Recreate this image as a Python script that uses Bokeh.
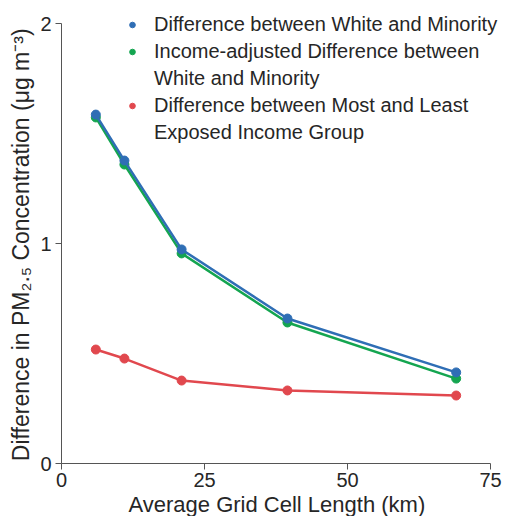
from bokeh.plotting import figure
from bokeh.models import Range1d, FixedTicker, Legend, LegendItem
from bokeh.embed import file_html
from bokeh.resources import INLINE

grid_length = [6, 11, 21, 39.5, 69]
white_minority = [1.586, 1.377, 0.973, 0.659, 0.414]
income_adjusted = [1.573, 1.359, 0.955, 0.641, 0.386]
most_least_income = [0.518, 0.477, 0.377, 0.332, 0.309]
x_ticks = [0, 25, 50, 75]
y_ticks = [0, 1, 2]

# legend labels, one list entry per printed line
label_lines = [
    ["Difference between White and Minority"],
    ["Income-adjusted Difference between", "White and Minority"],
    ["Difference between Most and Least", "Exposed Income Group"],
]
colors = ["#2f6eb5", "#14a550", "#e1484e"]

FONT = "Liberation Sans"
TXT = "#262626"
NB = "\u00a0"

# axes span 0-75 and 0-2 (429 x 440 px); frame extended so the legend is not clipped
FW, FH = 443, 463
p = figure(frame_width=FW, frame_height=FH, output_backend="svg",
           toolbar_location=None,
           x_range=Range1d(0, 75 * FW / 429), y_range=Range1d(0, 2 * FH / 440),
           min_border_left=61, min_border_top=0, min_border_right=0, min_border_bottom=45)
p.outline_line_color = None
p.grid.visible = False

series = [white_minority, income_adjusted, most_least_income]
order = [2, 1, 0]
rends = {}
for i in order:
    p.line(grid_length, series[i], line_color=colors[i], line_width=2.5)
    rends[i] = p.scatter(grid_length, series[i], size=9, color=colors[i])

# invisible renderer for continuation lines of the legend labels
blank = p.scatter([], [], size=0, fill_alpha=0, line_alpha=0)

items = []
for i in range(3):
    for j, line in enumerate(label_lines[i]):
        items.append(LegendItem(label=line, renderers=[rends[i] if j == 0 else blank]))

legend = Legend(items=items, location=(64, 317))
legend.background_fill_alpha = 0
legend.border_line_alpha = 0
legend.label_text_font = FONT
legend.label_text_font_size = "20px"
legend.label_text_color = TXT
legend.glyph_width = 14
legend.glyph_height = 27
legend.label_height = 27
legend.label_standoff = 15
legend.padding = 0
legend.margin = 0
legend.spacing = 0
p.add_layout(legend, "center")

p.xaxis.ticker = FixedTicker(ticks=x_ticks)
p.yaxis.ticker = FixedTicker(ticks=y_ticks)
p.xaxis.bounds = (0, 75)
p.yaxis.bounds = (0, 2)
for ax in [p.xaxis, p.yaxis]:
    ax.minor_tick_line_color = None
    ax.major_tick_out = 6
    ax.major_tick_in = 0
    ax.axis_line_color = "#555555"
    ax.major_tick_line_color = "#555555"
    ax.major_label_text_font = FONT
    ax.major_label_text_font_size = "20px"
    ax.major_label_text_color = TXT
    ax.axis_label_text_font = FONT
    ax.axis_label_text_font_size = "22px"
    ax.axis_label_text_font_style = "normal"
    ax.axis_label_text_color = TXT
p.yaxis.axis_label_text_font_size = "23px"
p.xaxis.axis_label = "Average Grid Cell Length (km)" + NB * 2
p.yaxis.axis_label = "Difference in PM\u2082.\u2085 Concentration (\u03bcg m\u207b\u00b3)" + NB * 4
p.xaxis.axis_label_standoff = 2
p.yaxis.axis_label_standoff = 3
p.xaxis.major_label_standoff = 3
p.yaxis.major_label_standoff = 4

open("out.html", "w").write(file_html(p, INLINE))
